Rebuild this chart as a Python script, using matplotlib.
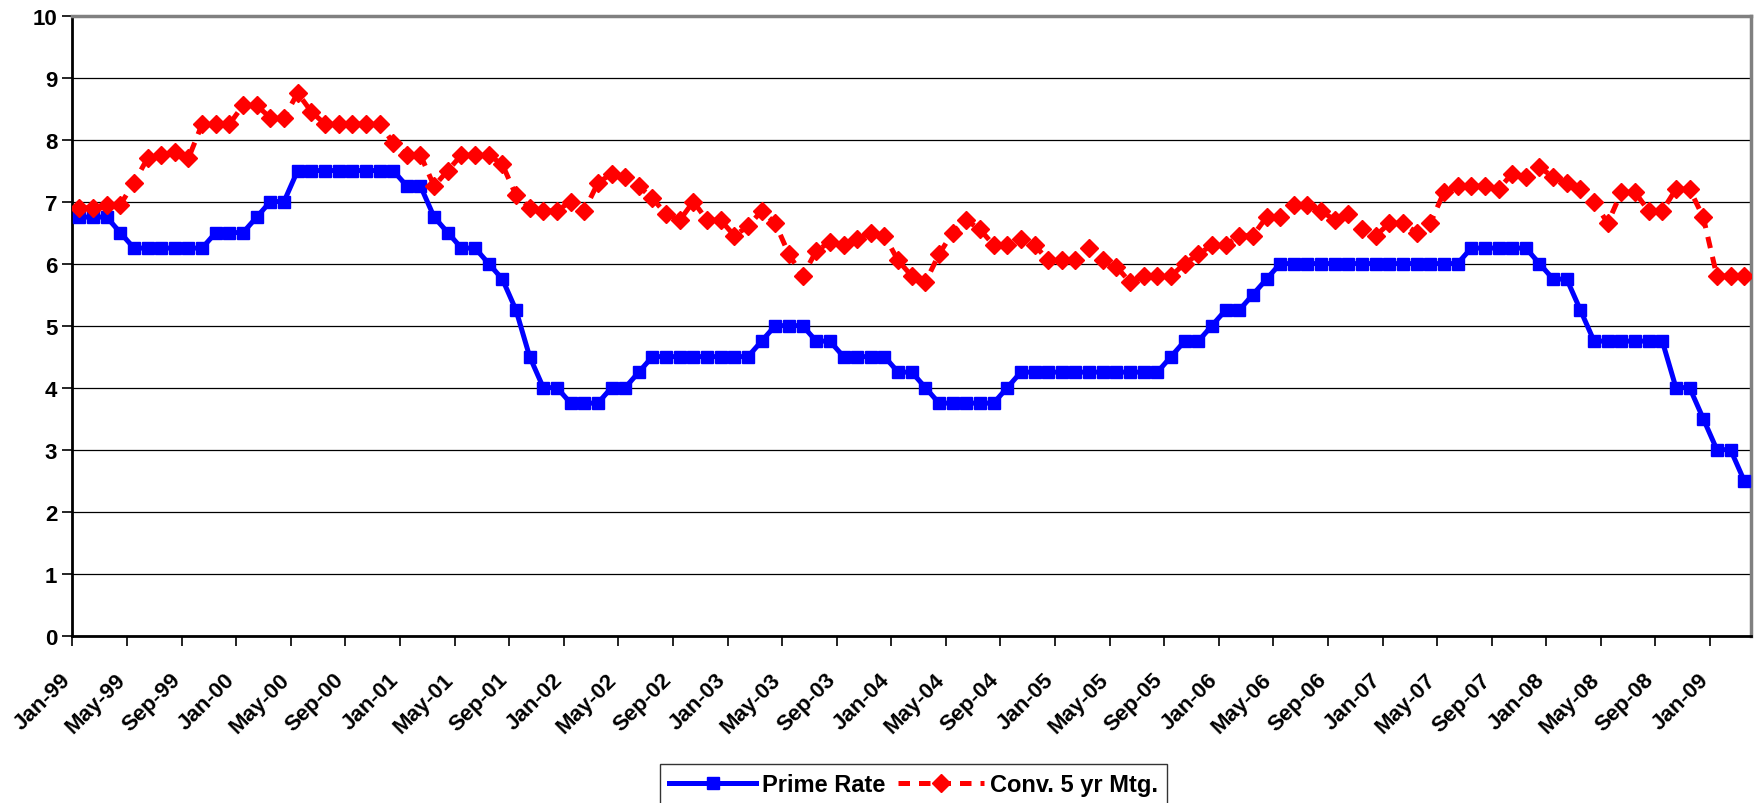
import matplotlib
matplotlib.use("Agg")
import matplotlib.pyplot as plt
import matplotlib.transforms as mtransforms
import numpy as np

plt.rcParams['font.family'] = ['Liberation Sans', 'DejaVu Sans']
plt.rcParams['font.weight'] = 'bold'

# Monthly data Jan-99 .. Mar-09
prime_rate = (
    [6.75] * 3 + [6.5] + [6.25] * 6 + [6.5] * 3 + [6.75] + [7.0] * 2 + [7.5] * 8 +
    [7.25] * 2 + [6.75] + [6.5] + [6.25] * 2 + [6.0] + [5.75] + [5.25] + [4.5] +
    [4.0] * 2 + [3.75] * 3 + [4.0] * 2 + [4.25] + [4.5] * 8 + [4.75] + [5.0] * 3 +
    [4.75] * 2 + [4.5] * 4 + [4.25] * 2 + [4.0] + [3.75] * 5 + [4.0] + [4.25] * 11 +
    [4.5] + [4.75] * 2 + [5.0] + [5.25] * 2 + [5.5] + [5.75] + [6.0] * 14 +
    [6.25] * 5 + [6.0] + [5.75] * 2 + [5.25] + [4.75] * 6 + [4.0] * 2 + [3.5] +
    [3.0] * 2 + [2.5]
)

conv_5yr_mtg = [
    6.9, 6.9, 6.95, 6.95, 7.3, 7.7, 7.75, 7.8, 7.7, 8.25, 8.25, 8.25,
    8.55, 8.55, 8.35, 8.35, 8.75, 8.45, 8.25, 8.25, 8.25, 8.25, 8.25, 7.95,
    7.75, 7.75, 7.25, 7.5, 7.75, 7.75, 7.75, 7.6, 7.1, 6.9, 6.85, 6.85,
    7.0, 6.85, 7.3, 7.45, 7.4, 7.25, 7.05, 6.8, 6.7, 7.0, 6.7, 6.7,
    6.45, 6.6, 6.85, 6.65, 6.15, 5.8, 6.2, 6.35, 6.3, 6.4, 6.5, 6.45,
    6.05, 5.8, 5.7, 6.15, 6.5, 6.7, 6.55, 6.3, 6.3, 6.4, 6.3, 6.05,
    6.05, 6.05, 6.25, 6.05, 5.95, 5.7, 5.8, 5.8, 5.8, 6.0, 6.15, 6.3,
    6.3, 6.45, 6.45, 6.75, 6.75, 6.95, 6.95, 6.85, 6.7, 6.8, 6.55, 6.45,
    6.65, 6.65, 6.5, 6.65, 7.15, 7.25, 7.25, 7.25, 7.2, 7.45, 7.4, 7.55,
    7.4, 7.3, 7.2, 7.0, 6.65, 7.15, 7.15, 6.85, 6.85, 7.2, 7.2, 6.75,
    5.8, 5.8, 5.8,
]

tick_labels = [
    "Jan-99", "May-99", "Sep-99", "Jan-00", "May-00", "Sep-00", "Jan-01", "May-01",
    "Sep-01", "Jan-02", "May-02", "Sep-02", "Jan-03", "May-03", "Sep-03", "Jan-04",
    "May-04", "Sep-04", "Jan-05", "May-05", "Sep-05", "Jan-06", "May-06", "Sep-06",
    "Jan-07", "May-07", "Sep-07", "Jan-08", "May-08", "Sep-08", "Jan-09",
]

n = len(prime_rate)
x = np.arange(n)

fig = plt.figure(figsize=(17.6, 8.04), dpi=100)
ax = fig.add_axes([0.04119, 0.20808, 0.95369, 0.77139])

ax.set_ylim(0, 10)
ax.set_xlim(-0.5, n - 0.5)
ax.set_yticks(range(0, 11))
ax.yaxis.grid(True, color='black', linewidth=0.9)
ax.set_axisbelow(True)

ax.plot(x, prime_rate, color='#0000FF', linewidth=3.6, marker='s',
        markersize=8.7, markeredgecolor='#0000FF', markerfacecolor='#0000FF',
        label='Prime Rate', zorder=3)
ax.plot(x, conv_5yr_mtg, color='#FF0000', linewidth=3.6, linestyle=(0, (2.3, 1.8)),
        marker='D', markersize=9.5, markeredgecolor='#FF0000', markerfacecolor='#FF0000',
        label='Conv. 5 yr Mtg.', zorder=4)

tick_pos = np.arange(len(tick_labels)) * 4 - 0.5
ax.set_xticks(tick_pos)
ax.set_xticklabels(tick_labels, rotation=45, ha='right', rotation_mode='anchor',
                   fontsize=16, fontweight='bold')
ax.tick_params(axis='x', direction='out', length=7, width=1.2, pad=17)
ax.tick_params(axis='y', direction='out', length=7, width=1.2, pad=4, labelsize=16)
for lab in ax.get_yticklabels():
    lab.set_fontweight('bold')
offset = mtransforms.ScaledTranslation(-0.12, 0.0, fig.dpi_scale_trans)
for lab in ax.get_xticklabels():
    lab.set_transform(lab.get_transform() + offset)

ax.spines['left'].set_color('black')
ax.spines['left'].set_linewidth(2)
ax.spines['bottom'].set_color('black')
ax.spines['bottom'].set_linewidth(2)
ax.spines['top'].set_color('#808080')
ax.spines['top'].set_linewidth(2.5)
ax.spines['right'].set_color('#808080')
ax.spines['right'].set_linewidth(2.5)

leg = fig.legend(loc='upper left', bbox_to_anchor=(660 / 1760, 1 - 765 / 804),
                 bbox_transform=fig.transFigure, ncol=2, frameon=True,
                 fancybox=False, edgecolor='black', borderaxespad=0,
                 prop={'size': 17, 'weight': 'bold'}, handlelength=3.65,
                 handletextpad=0.25, columnspacing=0.55, borderpad=0.4)
leg.get_frame().set_linewidth(1.0)

fig.savefig('out.png', dpi=100)
